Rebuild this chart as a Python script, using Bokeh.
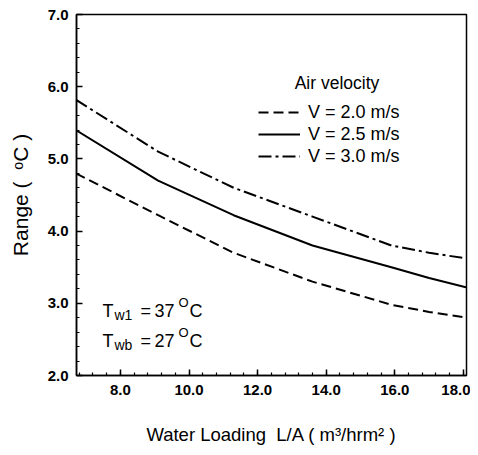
from bokeh.plotting import figure
from bokeh.models import (Range1d, SingleIntervalTicker, NumeralTickFormatter,
                          Legend, LegendItem, Label)
from bokeh.embed import file_html
from bokeh.resources import INLINE

# ---- data ----
water_loading = [6.7, 9.1, 11.3, 13.6, 15.9, 17.0, 18.1]
range_v20 = [4.80, 4.22, 3.70, 3.30, 2.98, 2.88, 2.80]
range_v25 = [5.40, 4.70, 4.22, 3.80, 3.50, 3.35, 3.22]
range_v30 = [5.82, 5.10, 4.60, 4.20, 3.80, 3.70, 3.62]
series_labels = ["V = 2.0 m/s", "V = 2.5 m/s", "V = 3.0 m/s"]
legend_title = "Air velocity"
x_title = "Water Loading\u00a0\u00a0L/A ( m³/hrm² )"
y_title = "Range (\u00a0\u00a0ᵒC )"

FONT = "Liberation Sans"
X0, X1 = 6.72, 18.09
Y0, Y1 = 2.0, 7.0

p = figure(width=470, height=447, output_backend="svg", toolbar_location=None,
           x_range=Range1d(X0, X1), y_range=Range1d(Y0, Y1),
           min_border_left=76, min_border_right=4, min_border_top=14,
           min_border_bottom=72)
p.background_fill_color = "white"
p.border_fill_color = "white"
p.outline_line_color = "black"
p.outline_line_width = 1.5
p.grid.visible = False

p.xaxis.ticker = SingleIntervalTicker(interval=2, num_minor_ticks=5)
p.yaxis.ticker = SingleIntervalTicker(interval=1, num_minor_ticks=5)
for ax in (p.xaxis, p.yaxis):
    ax.formatter = NumeralTickFormatter(format="0.0")
    ax.axis_line_color = "black"
    ax.axis_line_width = 1.5
    ax.major_tick_in = 6
    ax.major_tick_out = 0
    ax.minor_tick_in = 3
    ax.minor_tick_out = 0
    ax.major_tick_line_width = 1.5
    ax.minor_tick_line_width = 1.2
    ax.major_tick_line_color = "black"
    ax.minor_tick_line_color = "black"
    ax.major_label_text_font = FONT
    ax.major_label_text_font_style = "bold"
    ax.major_label_text_font_size = "15px"
    ax.major_label_text_color = "black"
    ax.axis_label_text_font = FONT
    ax.axis_label_text_font_style = "normal"
    ax.axis_label_text_color = "black"

p.xaxis.major_label_standoff = 9
p.yaxis.major_label_standoff = 8
p.xaxis.axis_label = x_title
p.yaxis.axis_label = y_title
p.xaxis.axis_label_text_font_size = "18.5px"
p.yaxis.axis_label_text_font_size = "21px"
p.xaxis.axis_label_standoff = 26
p.yaxis.axis_label_standoff = 13

r20 = p.line(water_loading, range_v20, line_color="black", line_width=2,
             line_dash="10 5")
r25 = p.line(water_loading, range_v25, line_color="black", line_width=2)
r30 = p.line(water_loading, range_v30, line_color="black", line_width=2,
             line_dash="13 4 3 4")

legend = Legend(items=[LegendItem(label=series_labels[0], renderers=[r20]),
                       LegendItem(label=series_labels[1], renderers=[r25]),
                       LegendItem(label=series_labels[2], renderers=[r30])],
                location=(182, 208), glyph_width=42, glyph_height=22,
                label_height=22, spacing=0, padding=0, margin=0,
                label_standoff=8, background_fill_alpha=0,
                border_line_alpha=0, label_text_font=FONT,
                label_text_font_size="18px", label_text_color="black")
p.add_layout(legend)

p.add_layout(Label(x=13.08, y=6.05, text=legend_title, text_font=FONT,
                   text_font_size="17.5px", text_color="black",
                   text_baseline="alphabetic"))


def piece(txt, dx, dy, size):
    p.add_layout(Label(x=X0, y=Y0, x_offset=dx, y_offset=dy, text=txt,
                       text_font=FONT, text_font_size=f"{size}px",
                       text_color="black", text_baseline="alphabetic"))


# condition annotations with sub/superscripts (offsets in px from frame corner)
def annot(base_dy, sub, val):
    x0 = 26
    piece("T", x0, base_dy, 18)
    piece(sub, x0 + 12, base_dy - 4, 14)
    piece("=", x0 + 38, base_dy, 18)
    piece(val, x0 + 52, base_dy, 18)
    piece("O", x0 + 76, base_dy + 8, 13)
    piece("C", x0 + 87, base_dy, 18)


annot(65, "w1", "37")
annot(35, "wb", "27")

open("out.html", "w").write(file_html(p, INLINE))
